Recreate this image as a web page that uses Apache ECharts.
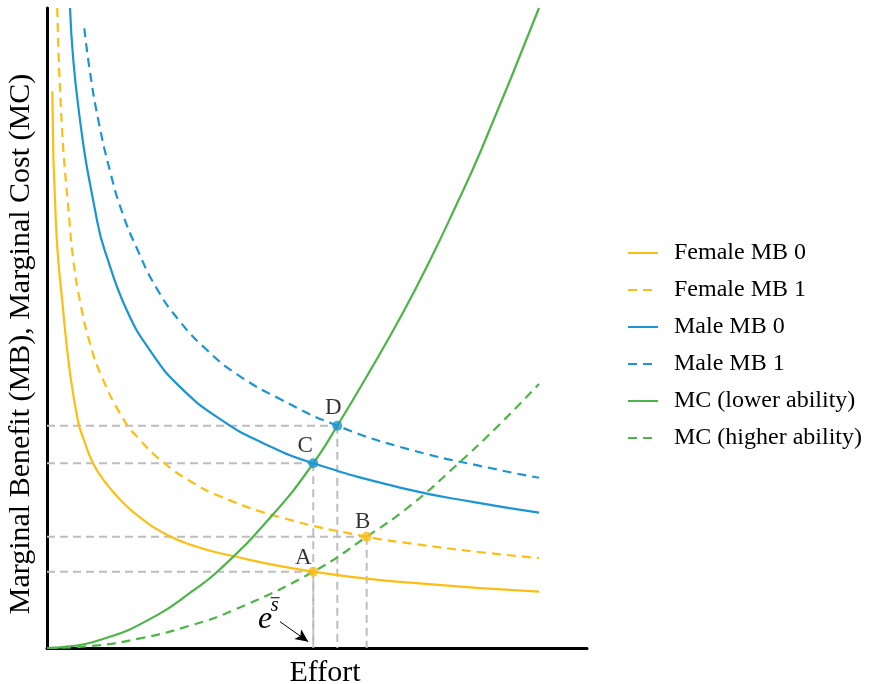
<!DOCTYPE html>
<html>
<head>
<meta charset="utf-8">
<script src="https://cdn.jsdelivr.net/npm/echarts@6/dist/echarts.min.js"></script>
<style>
html,body{margin:0;padding:0;background:#fff;}
#chart{width:876px;height:684px;}
</style>
</head>
<body>
<div id="chart"></div>
<script>
// ---- Data (effort on x, MB/MC on y, arbitrary units 0..10) ----
var femaleMB0 = [[0.098,8.70],[0.167,6.60],[0.302,5.25],[0.426,4.30],[0.580,3.52],[0.672,3.28],[0.857,2.88],[1.106,2.56],[1.352,2.32],[1.722,2.04],[2.217,1.77],[2.709,1.60],[3.204,1.48],[4.931,1.192],[6.722,1.02],[9.111,0.88]];
var femaleMB1 = [[0.190,10.0],[0.272,8.2],[0.413,6.70],[0.487,6.06],[0.611,5.42],[0.796,4.76],[1.013,4.24],[1.413,3.58],[1.722,3.25],[2.154,2.90],[2.648,2.61],[3.204,2.37],[4.376,2.03],[5.920,1.739],[6.722,1.635],[8.000,1.50],[9.111,1.405]];
var maleMB0 = [[0.426,10.0],[0.580,8.45],[0.931,6.66],[1.106,6.12],[1.476,5.28],[1.907,4.65],[2.463,4.08],[3.235,3.56],[4.006,3.20],[4.931,2.886],[6.722,2.47],[7.907,2.28],[9.111,2.114]];
var maleMB1 = [[0.691,9.683],[0.796,9.0],[0.950,8.25],[1.167,7.45],[1.383,6.83],[1.661,6.25],[2.031,5.62],[2.463,5.10],[2.957,4.66],[3.513,4.28],[4.315,3.89],[5.376,3.473],[6.722,3.10],[8.328,2.79],[9.111,2.66]];
var mcLower = [[0,0],[0.241,0.011],[1.106,0.16],[2.031,0.51],[2.648,0.86],[3.204,1.23],[4.200,2.10],[4.931,2.886],[5.376,3.473],[5.981,4.33],[6.598,5.25],[7.093,6.06],[7.524,6.82],[8.050,7.80],[9.111,10.0]];
var mcHigher = [[0,0],[0.796,0.03],[1.722,0.15],[2.648,0.35],[3.450,0.59],[4.931,1.192],[5.920,1.739],[6.722,2.22],[7.587,2.86],[8.328,3.45],[9.111,4.125]];

var pointNames = ['A','B','C','D'];
var pointX = [4.931, 5.920, 4.931, 5.376];
var pointY = [1.192, 1.739, 2.886, 3.473];

var seriesNames = ['Female MB 0','Female MB 1','Male MB 0','Male MB 1','MC (lower ability)','MC (higher ability)'];

// annotation e^{s̄}: arrow from/to, text anchors (data coords)
var arrowFrom = [4.315, 0.411];
var arrowTo = [4.839, 0.098];
var eLabelAt = [4.037, 0.45];
var sLabelAt = [4.215, 0.66];

// ---- Styles ----
var YEL = '#FDBE14', BLU = '#1B95D3', GRN = '#4DB548', GRY = '#BDBDBD';
var serif = '"Liberation Serif","DejaVu Serif",serif';
var pointColors = [YEL, YEL, BLU, BLU];
var labelOffsets = [[-10,-14],[-4,-15],[-8,-17],[-4,-18]];

function curve(name, data, color, dashed) {
  return {
    name: name, type: 'line', data: data, smooth: 0.5,
    symbol: 'none', z: 3, clip: true,
    lineStyle: {color: color, width: 2.2, type: dashed ? [9, 6] : 'solid'},
    itemStyle: {color: color}
  };
}

var series = [];
// grey guide lines
for (var i = 0; i < pointNames.length; i++) {
  series.push({
    type: 'line', silent: true, symbol: 'none', z: 1,
    data: [[0, pointY[i]], [pointX[i], pointY[i]]],
    lineStyle: {color: GRY, width: 2, type: [8, 5]}
  });
  series.push({
    type: 'line', silent: true, symbol: 'none', z: 1,
    data: [[pointX[i], pointY[i]], [pointX[i], 0]],
    lineStyle: {color: GRY, width: 2, type: [8, 5]}
  });
}
series.push(curve(seriesNames[0], femaleMB0, YEL, false));
series.push(curve(seriesNames[1], femaleMB1, YEL, true));
series.push(curve(seriesNames[2], maleMB0, BLU, false));
series.push(curve(seriesNames[3], maleMB1, BLU, true));
series.push(curve(seriesNames[4], mcLower, GRN, false));
var mch = curve(seriesNames[5], mcHigher, GRN, true);
mch.markLine = {
  silent: true, symbol: ['none', 'arrow'], symbolSize: [9, 13],
  label: {show: false},
  lineStyle: {color: '#000', width: 1, type: 'solid'},
  data: [[{coord: arrowFrom}, {coord: arrowTo}]]
};
series.push(mch);

// equilibrium points
series.push({
  type: 'scatter', z: 5, symbolSize: 10,
  data: pointNames.map(function (n, i) {
    return {
      value: [pointX[i], pointY[i]], name: n,
      itemStyle: {color: pointColors[i]},
      label: {show: true, position: 'inside', offset: labelOffsets[i], formatter: n,
        color: '#000', fontFamily: serif, fontSize: 23}
    };
  })
});

var chart = echarts.init(document.getElementById('chart'), null, {renderer: 'canvas'});
chart.setOption({
  animation: false,
  backgroundColor: '#fff',
  grid: {left: 47, top: 8, width: 540, height: 640, containLabel: false, outerBoundsMode: 'none'},
  xAxis: {
    type: 'value', min: 0, max: 10,
    name: 'Effort', nameLocation: 'middle', nameGap: 10,
    nameTextStyle: {fontFamily: serif, fontSize: 30, color: '#000', padding: [0, 0, 0, 16], verticalAlign: 'top'},
    axisLine: {show: true, lineStyle: {color: '#000', width: 3}},
    axisTick: {show: false}, axisLabel: {show: false}, splitLine: {show: false}
  },
  yAxis: {
    type: 'value', min: 0, max: 10,
    name: 'Marginal Benefit (MB), Marginal Cost (MC)', nameLocation: 'middle', nameGap: 11,
    nameTextStyle: {fontFamily: serif, fontSize: 30, color: '#000', padding: [0, 32, 0, 0]},
    axisLine: {show: true, lineStyle: {color: '#000', width: 3}},
    axisTick: {show: false}, axisLabel: {show: false}, splitLine: {show: false}
  },
  legend: {
    orient: 'vertical', left: 627, top: 241, padding: 0,
    itemWidth: 30, itemHeight: 14, itemGap: 13,
    data: seriesNames,
    itemStyle: {opacity: 0},
    textStyle: {fontFamily: serif, fontSize: 24, color: '#000', padding: [0, 0, 0, 11]}
  },
  series: series
});

// e^{s̄} annotation, placed through the axes' scales
var ep = chart.convertToPixel({gridIndex: 0}, eLabelAt);
var sp = chart.convertToPixel({gridIndex: 0}, sLabelAt);
chart.setOption({
  graphic: [
    {type: 'text', x: ep[0], y: ep[1], z: 10,
      style: {text: 'e', fontFamily: serif, fontStyle: 'italic', fontSize: 32, fill: '#000', align: 'center', verticalAlign: 'middle'}},
    {type: 'text', x: sp[0], y: sp[1], z: 10,
      style: {text: 's', fontFamily: serif, fontStyle: 'italic', fontSize: 20, fill: '#000', align: 'center', verticalAlign: 'middle'}},
    {type: 'line', z: 10, shape: {x1: sp[0] - 4, y1: sp[1] - 8, x2: sp[0] + 5, y2: sp[1] - 8},
      style: {stroke: '#000', lineWidth: 1}}
  ]
});
</script>
</body>
</html>
